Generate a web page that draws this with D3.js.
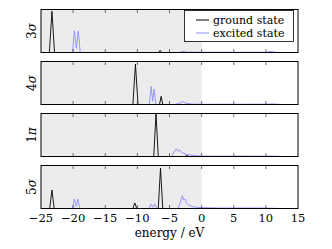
<!DOCTYPE html>
<html>
<head>
<meta charset="utf-8">
<script src="https://cdn.jsdelivr.net/npm/d3@7"></script>
<style>
  body { margin: 0; background: #fff; }
</style>
</head>
<body>
<div id="chart"></div>
<script>
// orbital panels, top to bottom
const orbitals = [['3', 'σ'], ['4', 'σ'], ['1', 'π'], ['5', 'σ']];
const xTicks = [-25, -20, -15, -10, -5, 0, 5, 10, 15];
const legendLabels = ['ground state', 'excited state'];

// [energy (eV), density], scaled to each panel's max
const ground3s = [[-25, 0], [-23.7, 0], [-23.3, 0.96], [-22.9, 0], [-6.7, 0], [-6.45, 0.05], [-6.2, 0], [15, 0]];
const excited3s = [[-25, 0], [-20.1, 0], [-19.8, 0.51], [-19.5, 0.1], [-19.2, 0.5], [-18.9, 0],
  [-3.4, 0], [-2.9, 0.03], [-2.4, 0.01], [0, 0.005], [10, 0.005], [10.8, 0.025], [11.5, 0.005], [12.5, 0]];

const ground4s = [[-25, 0], [-10.7, 0], [-10.3, 0.94], [-9.9, 0], [-6.55, 0], [-6.3, 0.19], [-6.05, 0], [15, 0]];
const excited4s = [[-25, 0], [-8.15, 0], [-7.85, 0.42], [-7.62, 0.08], [-7.4, 0.36], [-7.1, 0],
  [-4.2, 0], [-3.4, 0.03], [-2.9, 0.07], [-2.5, 0.03], [-1.5, 0.01], [0, 0.005], [10.2, 0.008], [11, 0.015], [12.5, 0]];

const ground1p = [[-25, 0], [-7.45, 0], [-7.1, 1.0], [-6.75, 0], [-2.6, 0], [-2.3, 0.025], [-2.0, 0], [15, 0]];
const excited1p = [[-25, 0], [-4.7, 0], [-4.3, 0.1], [-3.95, 0.18], [-3.7, 0.12], [-3.4, 0.16], [-3.1, 0.09],
  [-2.8, 0.08], [-2.4, 0.05], [-1.8, 0.035], [-1.0, 0.02], [0, 0.01], [3, 0.008], [6, 0.01], [9, 0.008], [11, 0.01], [12.5, 0]];

const ground5s = [[-25, 0], [-23.65, 0], [-23.3, 0.43], [-22.95, 0], [-10.7, 0], [-10.4, 0.13], [-10.1, 0],
  [-6.75, 0], [-6.4, 0.94], [-6.05, 0], [15, 0]];
const excited5s = [[-25, 0], [-20.1, 0], [-19.8, 0.22], [-19.52, 0.05], [-19.25, 0.22], [-18.95, 0],
  [-8.2, 0], [-7.9, 0.1], [-7.6, 0.03], [-7.3, 0.11], [-7.0, 0],
  [-3.7, 0], [-3.3, 0.15], [-3.0, 0.3], [-2.8, 0.2], [-2.6, 0.22], [-2.3, 0.12], [-2.0, 0.08],
  [-1.5, 0.05], [-1.0, 0.03], [0, 0.02], [3, 0.01], [7, 0.012], [10, 0.01], [12.5, 0]];

const groundSeries = [ground3s, ground4s, ground1p, ground5s];
const excitedSeries = [excited3s, excited4s, excited1p, excited5s];

const W = 332, H = 249;
const left = 41, right = 298;
const panelTop = 9.5, panelStep = 52, panelH = 43;
const FONT = "'DejaVu Serif', serif";

const svg = d3.select('#chart').append('svg')
  .attr('width', W).attr('height', H)
  .attr('font-family', FONT)
  .style('font-family', FONT);

const x = d3.scaleLinear().domain([-25, 15]).range([left, right]);
const y = d3.scaleLinear().domain([0, 1]).range([panelH, 0]);
const line = d3.line().x(d => x(d[0])).y(d => y(d[1]));

svg.append('defs').append('clipPath').attr('id', 'clip')
  .append('rect').attr('x', left).attr('y', 0).attr('width', right - left).attr('height', panelH);

orbitals.forEach((orb, i) => {
  const g = svg.append('g').attr('transform', `translate(0, ${panelTop + i * panelStep})`);

  // occupied region shading
  g.append('rect')
    .attr('x', x(-25)).attr('y', 0)
    .attr('width', x(0) - x(-25)).attr('height', panelH)
    .attr('fill', '#ececec');

  const plot = g.append('g').attr('clip-path', 'url(#clip)');
  plot.append('path').datum(groundSeries[i])
    .attr('d', line).attr('fill', 'none').attr('stroke', '#000').attr('stroke-width', 0.9);
  plot.append('path').datum(excitedSeries[i])
    .attr('d', line).attr('fill', 'none').attr('stroke', '#8c8cff').attr('stroke-width', 0.9);

  // inward ticks top and bottom
  const inner = xTicks.slice(1, -1);
  g.selectAll('.tb').data(inner).enter().append('line')
    .attr('x1', d => x(d)).attr('x2', d => x(d))
    .attr('y1', panelH).attr('y2', panelH - 3.5)
    .attr('stroke', '#333').attr('stroke-width', 0.7);
  g.selectAll('.tt').data(inner).enter().append('line')
    .attr('x1', d => x(d)).attr('x2', d => x(d))
    .attr('y1', 0).attr('y2', 3.5)
    .attr('stroke', '#333').attr('stroke-width', 0.7);

  g.append('rect')
    .attr('x', left).attr('y', 0)
    .attr('width', right - left).attr('height', panelH)
    .attr('fill', 'none').attr('stroke', '#000').attr('stroke-width', 1);

  const lab = g.append('text')
    .attr('transform', `translate(36, ${panelH / 2}) rotate(-90)`)
    .attr('text-anchor', 'middle')
    .attr('font-size', 12);
  lab.append('tspan').text(orb[0]);
  lab.append('tspan').attr('font-style', 'italic').text(orb[1]);
});

// x tick labels under the last panel
const bottomY = panelTop + 3 * panelStep + panelH;
svg.append('g').selectAll('text').data(xTicks).enter().append('text')
  .attr('x', d => x(d)).attr('y', bottomY + 13)
  .attr('text-anchor', 'middle')
  .attr('font-size', 11.5)
  .text(d => d < 0 ? '\u2212' + Math.abs(d) : d);

svg.append('text')
  .attr('x', (left + right) / 2).attr('y', bottomY + 28)
  .attr('text-anchor', 'middle').attr('font-size', 12)
  .text('energy / eV');

// legend
const lg = svg.append('g');
lg.append('rect')
  .attr('x', 184.5).attr('y', 10.5).attr('width', 109).attr('height', 31)
  .attr('fill', '#fff').attr('stroke', '#000').attr('stroke-width', 0.8);
legendLabels.forEach((t, i) => {
  const ly = 20 + i * 13;
  lg.append('line').attr('x1', 196).attr('x2', 209).attr('y1', ly).attr('y2', ly)
    .attr('stroke', i === 0 ? '#000' : '#8c8cff').attr('stroke-width', 1);
  lg.append('text').attr('x', 213).attr('y', ly + 3.5)
    .attr('font-size', 11).text(t);
});
</script>
</body>
</html>
